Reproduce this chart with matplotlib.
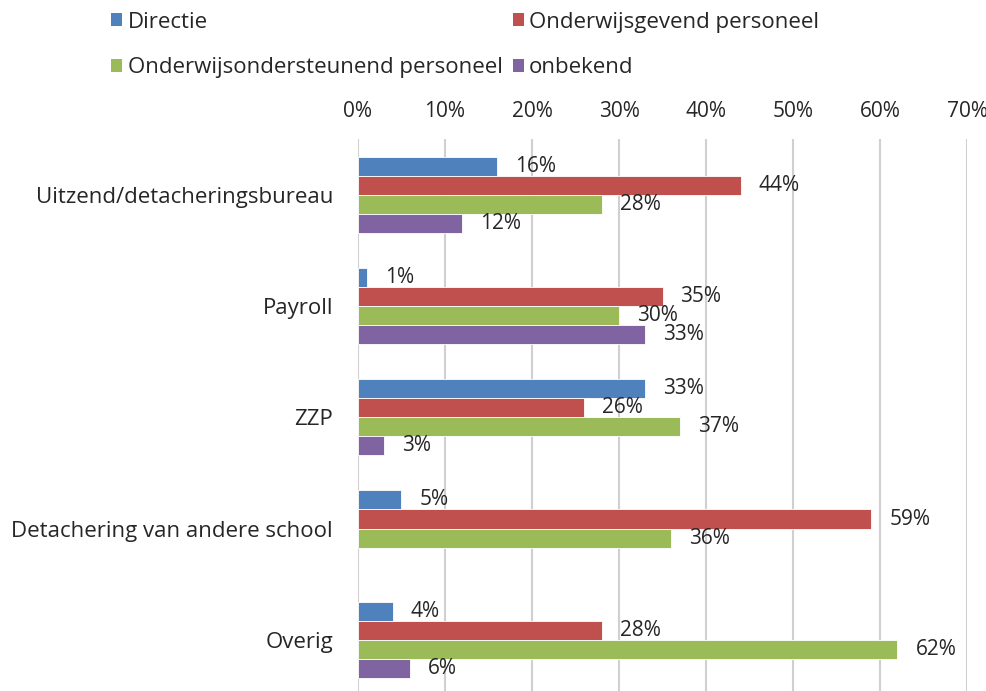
import numpy as np
import matplotlib
matplotlib.use("Agg")
import matplotlib.pyplot as plt
from matplotlib.patches import Patch

plt.rcParams['font.family'] = ['Open Sans', 'DejaVu Sans']

categories = ["Uitzend/detacheringsbureau", "Payroll", "ZZP",
              "Detachering van andere school", "Overig"]
series_names = ["Directie", "Onderwijsgevend personeel",
                "Onderwijsondersteunend personeel", "onbekend"]
directie = [16, 1, 33, 5, 4]
gevend = [44, 35, 26, 59, 28]
ondersteunend = [28, 30, 37, 36, 62]
onbekend = [12, 33, 3, np.nan, 6]
colors = ["#4F81BD", "#C0504D", "#9BBB59", "#8064A2"]
xticks = [0, 10, 20, 30, 40, 50, 60, 70]

values = [directie, gevend, ondersteunend, onbekend]
FS = 15
FS_TXT = 16

fig = plt.figure(figsize=(9.87, 6.91), dpi=100)
ax = fig.add_axes([358/987, 0.0, (967-358)/987, (691-139)/691])

n = len(series_names)
bh = 0.171
y = np.arange(len(categories))
txtc = "#262626"
for i, (name, vals, c) in enumerate(zip(series_names, values, colors)):
    offs = (i - (n - 1) / 2) * bh
    v = np.array(vals, dtype=float)
    lw = [0 if np.isnan(val) else 0.6 for val in v]
    bars = ax.barh(y + offs, np.nan_to_num(v), height=bh, color=c, label=name,
                   edgecolor='white', linewidth=lw, zorder=3)
    labels = ["" if np.isnan(val) else f"{int(val)}%" for val in v]
    ax.bar_label(bars, labels=labels, padding=13, fontsize=FS, color=txtc)

ax.set_xlim(0, 70)
ax.set_ylim(4.46, -0.5)
ax.set_xticks(xticks)
ax.set_xticklabels([f"{t}%" for t in xticks], fontsize=FS, color=txtc)
ax.xaxis.tick_top()
ax.set_yticks(y)
ax.set_yticklabels(categories, fontsize=FS_TXT, color=txtc)
ax.tick_params(axis='both', length=0)
ax.tick_params(axis='y', pad=18)
ax.tick_params(axis='x', pad=12)
ax.grid(axis='x', color='#D0D0D0', linewidth=1.5, zorder=0)
for s in ax.spines.values():
    s.set_visible(False)

order = [0, 2, 1, 3]
handles = [Patch(facecolor=colors[k], label=series_names[k]) for k in order]
fig.legend(handles=handles, ncol=2, loc='upper left',
           bbox_to_anchor=(91/987, 1.012), frameon=False, fontsize=FS_TXT,
           handlelength=0.5, handleheight=0.5, handletextpad=0.25,
           columnspacing=0.45, labelspacing=1.1, labelcolor=txtc)

fig.savefig("out.png", dpi=100)
